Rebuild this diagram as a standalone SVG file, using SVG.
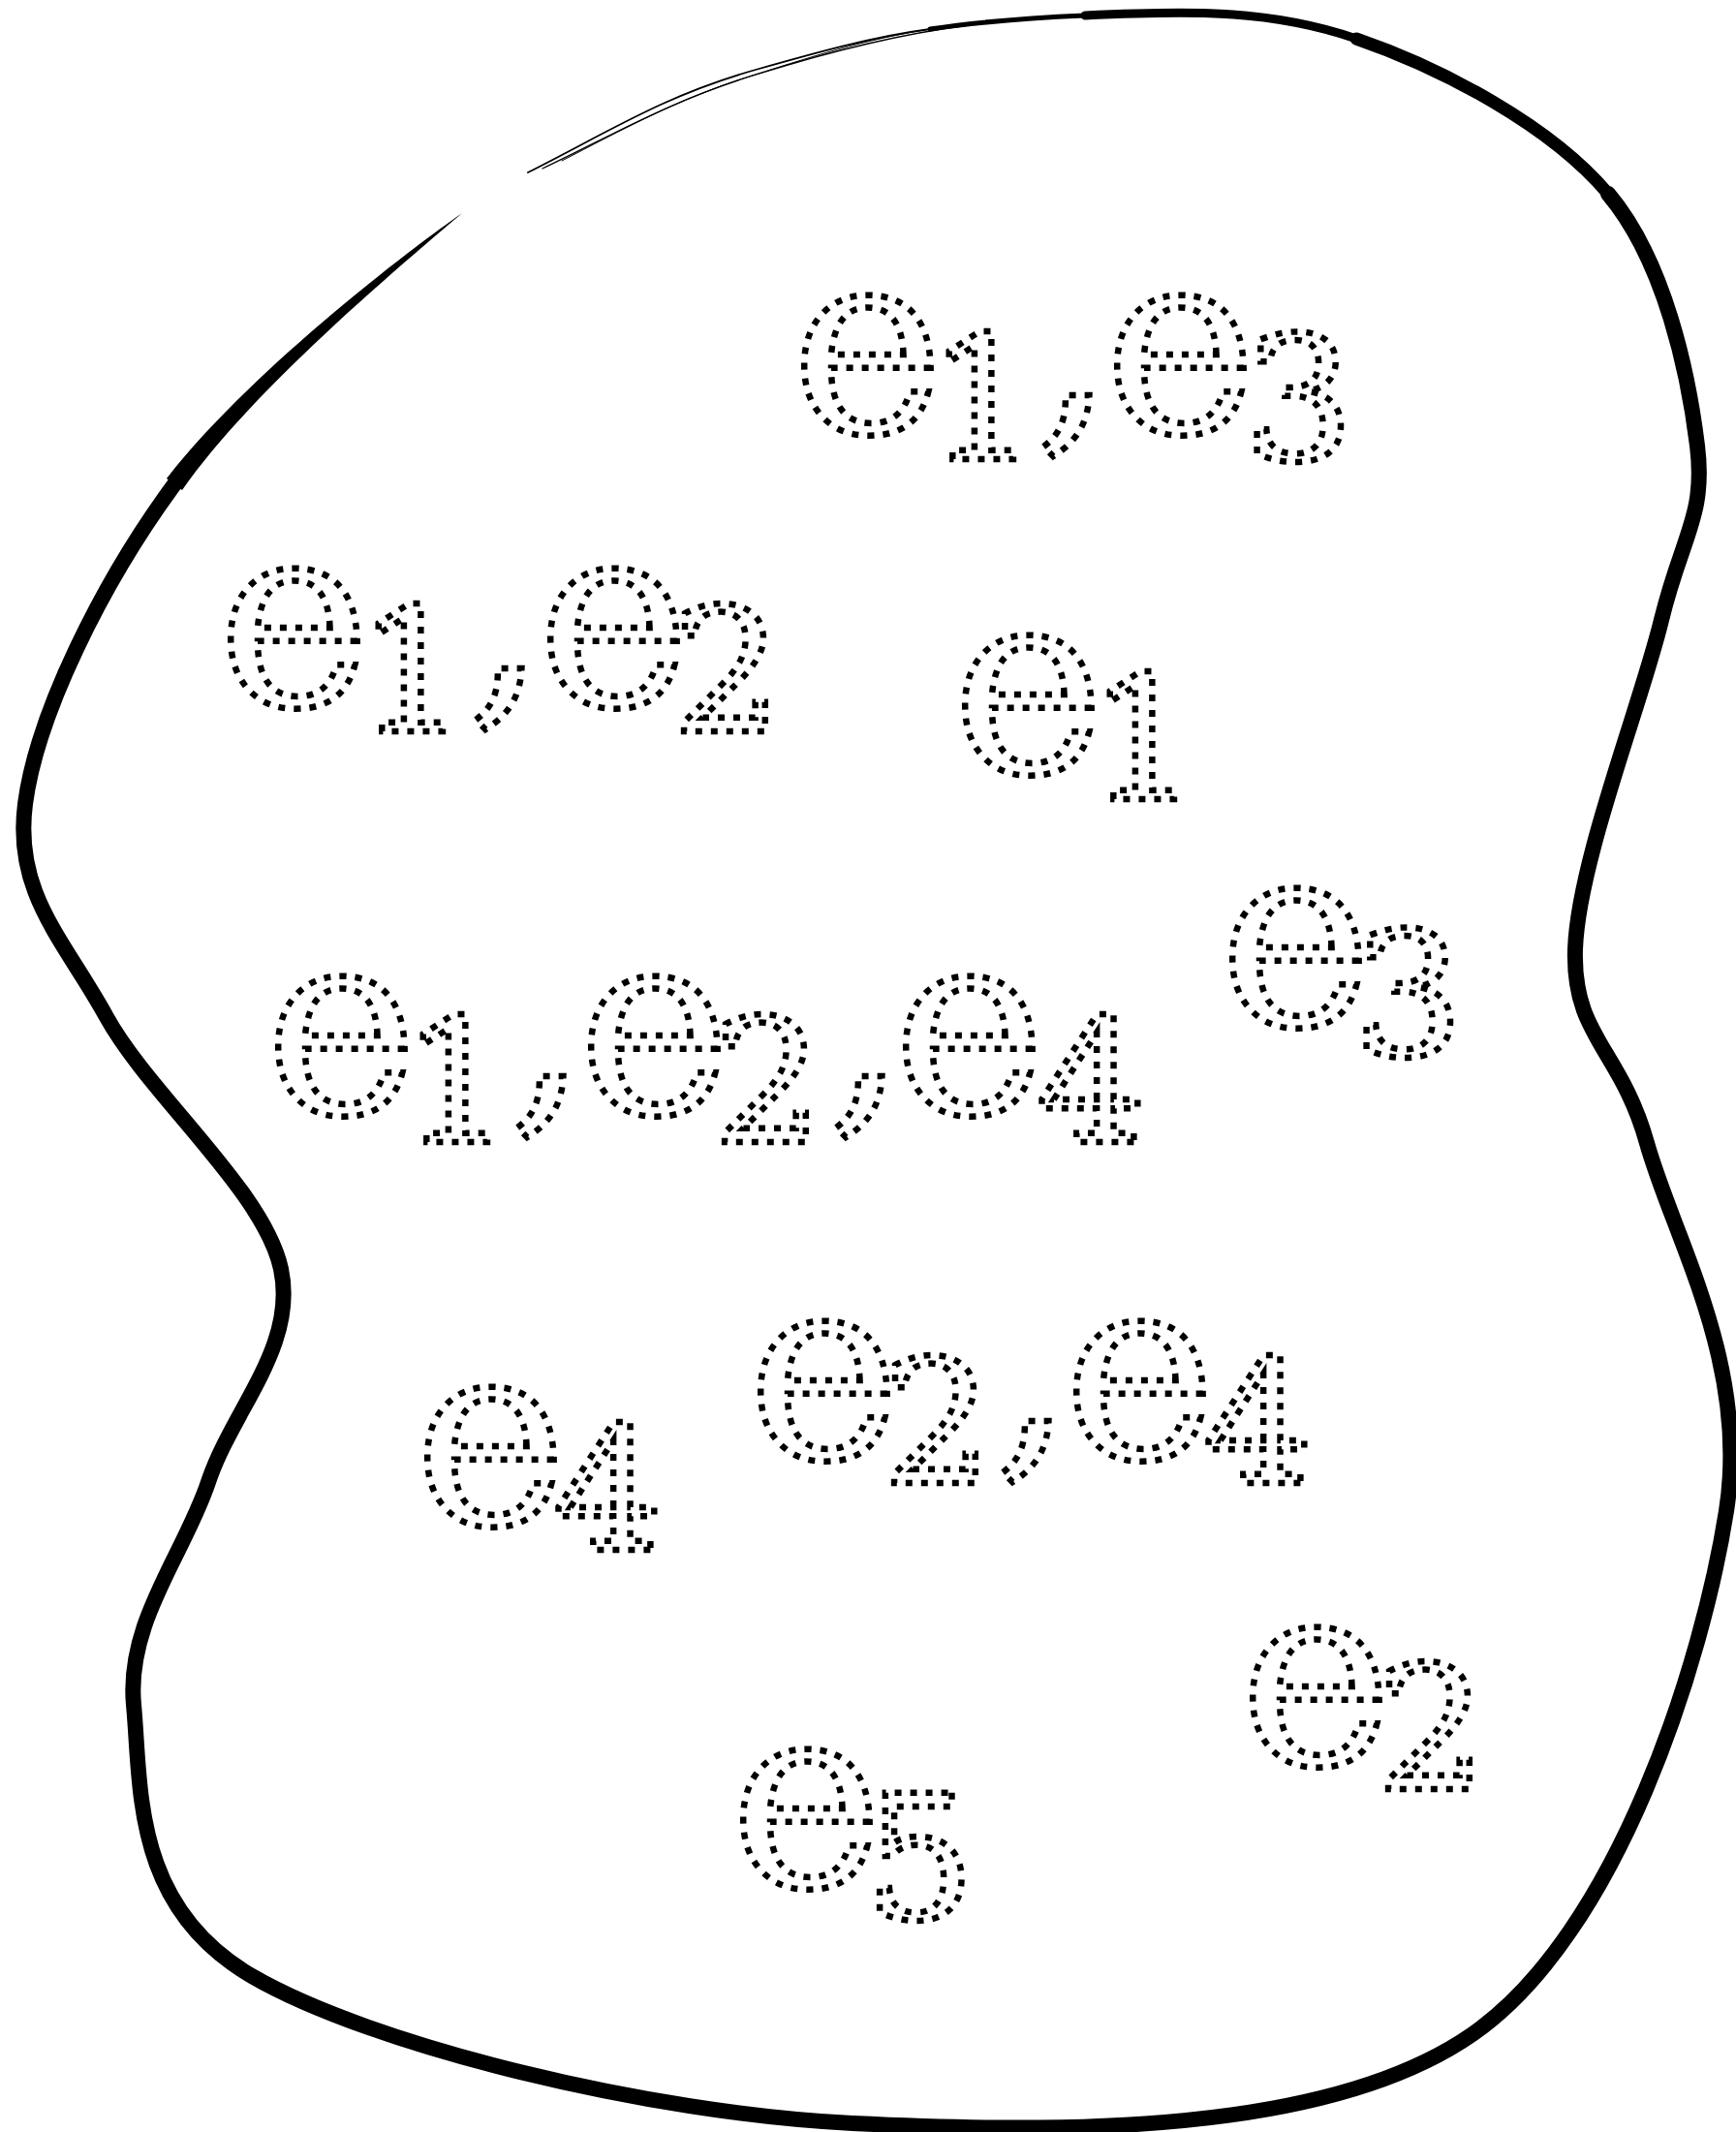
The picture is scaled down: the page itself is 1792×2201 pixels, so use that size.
<svg xmlns="http://www.w3.org/2000/svg" width="1792" height="2201" viewBox="0 0 1792 2201">
<style>
.lbl{font-family:"DejaVu Serif","Liberation Serif",serif;fill:none;stroke:#000;stroke-width:6.5;stroke-dasharray:7 9;stroke-linejoin:miter}
.m{font-size:265px}
.s{font-size:178px}
.c{font-size:255px}
.blob{fill:none;stroke:#000;stroke-linecap:round;stroke-linejoin:round}
</style>
<rect width="1792" height="2201" fill="#fff"/>
<g id="connectors">
<g id="blob">
<path d="M 477 220 C 404 271 250 393 172 494 L 188 506 C 260 403 409 278 477 220 Z" fill="#000"/>
<path class="blob" stroke-width="16" d="M 180 500 C 105 602 38 738 26 830 C 14 922 66 970 110 1050 C 154 1130 273 1230 290 1310 C 307 1390 240 1455 215 1530 C 190 1605 130 1675 138 1760 C 146 1845 136 1968 260 2040 C 384 2112 670 2182 880 2192 C 1090 2202 1369 2205 1520 2100 C 1671 1995 1758 1713 1782 1560 C 1806 1407 1727 1277 1700 1180 C 1673 1083 1623 1070 1626 980 C 1629 890 1694 727 1715 640 C 1736 553 1761 533 1752 460 C 1743 387 1719 270 1660 200"/>
<path class="blob" stroke-width="13" d="M 1660 200 C 1601 130 1490 71 1400 40"/>
<path class="blob" stroke-width="9" d="M 1400 40 C 1310 9 1223 11 1120 16"/>
<path class="blob" stroke-width="5" d="M 1120 16 C 1050 19 1000 24 960 30"/>
<path class="blob" stroke-width="1.8" d="M 960 30 C 900 38 840 55 780 72 C 684 99 625 138 545 178"/>
<path class="blob" stroke-width="1.3" d="M 1000 26 C 930 35 860 52 784 76 C 690 104 628 142 560 174"/>
<path class="blob" stroke-width="1" d="M 980 27 C 900 38 850 55 776 78 C 700 102 640 135 580 166"/>
</g>
</g>
<g id="n1"><text class="lbl"><tspan class="m" x="817" y="446">e</tspan><tspan class="s" x="958" y="474">1</tspan><tspan class="c" x="1068" y="436">,</tspan><tspan class="m" x="1140" y="446">e</tspan><tspan class="s" x="1284" y="474">3</tspan></text></g>
<g id="n2"><text class="lbl"><tspan class="m" x="225" y="728">e</tspan><tspan class="s" x="369" y="755">1</tspan><tspan class="c" x="482" y="718">,</tspan><tspan class="m" x="555" y="728">e</tspan><tspan class="s" x="694" y="755">2</tspan></text></g>
<g id="n3"><text class="lbl"><tspan class="m" x="983" y="797">e</tspan><tspan class="s" x="1124" y="825">1</tspan></text></g>
<g id="n4"><text class="lbl"><tspan class="m" x="1259" y="1058">e</tspan><tspan class="s" x="1397" y="1089">3</tspan></text></g>
<g id="n5"><text class="lbl"><tspan class="m" x="274" y="1149">e</tspan><tspan class="s" x="415" y="1179">1</tspan><tspan class="c" x="525" y="1139">,</tspan><tspan class="m" x="597" y="1149">e</tspan><tspan class="s" x="736" y="1179">2</tspan><tspan class="c" x="854" y="1139">,</tspan><tspan class="m" x="922" y="1149">e</tspan><tspan class="s" x="1070" y="1179">4</tspan></text></g>
<g id="n6"><text class="lbl"><tspan class="m" x="772" y="1505">e</tspan><tspan class="s" x="911" y="1531">2</tspan><tspan class="c" x="1026" y="1495">,</tspan><tspan class="m" x="1098" y="1505">e</tspan><tspan class="s" x="1242" y="1531">4</tspan></text></g>
<g id="n7"><text class="lbl"><tspan class="m" x="428" y="1573">e</tspan><tspan class="s" x="571" y="1600">4</tspan></text></g>
<g id="n8"><text class="lbl"><tspan class="m" x="1280" y="1821">e</tspan><tspan class="s" x="1421" y="1847">2</tspan></text></g>
<g id="n9"><text class="lbl"><tspan class="m" x="754" y="1947">e</tspan><tspan class="s" x="893" y="1980">5</tspan></text></g>
</svg>
